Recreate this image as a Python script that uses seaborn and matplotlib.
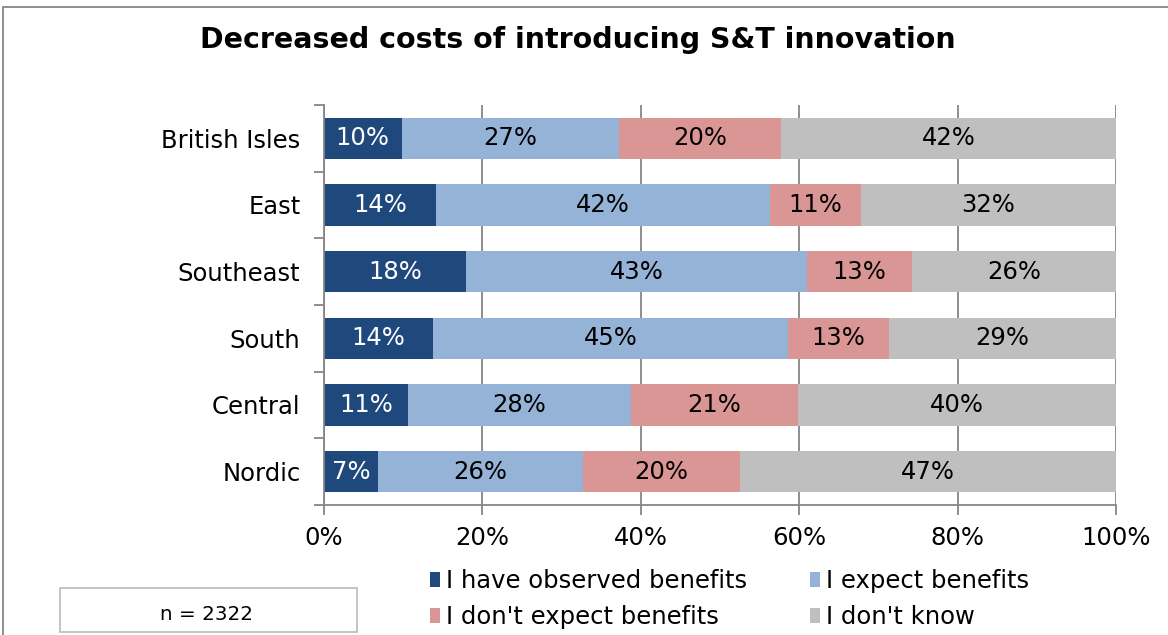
import matplotlib
matplotlib.use("Agg")
import matplotlib.pyplot as plt
import seaborn as sns
import pandas as pd
import numpy as np
from matplotlib.patches import Patch, Rectangle

regions = ["British Isles", "East", "Southeast", "South", "Central", "Nordic"]
observed = [9.8, 14.1, 17.9, 13.8, 10.6, 6.8]
expect = [27.4, 42.2, 43.1, 44.8, 28.2, 25.9]
dont_expect = [20.5, 11.5, 13.2, 12.7, 21.0, 19.8]
dont_know = [42.3, 32.2, 25.8, 28.7, 40.2, 47.5]
labels_observed = ["10%", "14%", "18%", "14%", "11%", "7%"]
labels_expect = ["27%", "42%", "43%", "45%", "28%", "26%"]
labels_dont_expect = ["20%", "11%", "13%", "13%", "21%", "20%"]
labels_dont_know = ["42%", "32%", "26%", "29%", "40%", "47%"]
series_names = ["I have observed benefits", "I expect benefits",
                "I don't expect benefits", "I don't know"]
colors = ["#1F497D", "#95B3D7", "#DA9694", "#BFBFBF"]
title = "Decreased costs of introducing S&T innovation"
n_text = "n = 2322"

sns.set_style("white")
plt.rcParams['font.family'] = ['DejaVu Sans']
plt.rcParams['text.color'] = 'black'
plt.rcParams['xtick.color'] = 'black'
plt.rcParams['ytick.color'] = 'black'
plt.rcParams['xtick.bottom'] = True
plt.rcParams['ytick.left'] = True

FS = 17.5

fig = plt.figure(figsize=(11.68, 6.35), dpi=100)
W, H = 1168, 635
ax = fig.add_axes([324 / W, 1 - 505 / H, (1116 - 324) / W, (505 - 105) / H])

series = [observed, expect, dont_expect, dont_know]
label_sets = [labels_observed, labels_expect, labels_dont_expect, labels_dont_know]
cum = np.cumsum(np.array(series), axis=0)

# draw cumulative layers from the longest to the shortest
for i in range(3, -1, -1):
    df = pd.DataFrame({"region": regions, "value": cum[i]})
    sns.barplot(data=df, x="value", y="region", orient="h", color=colors[i],
                width=0.62, ax=ax, saturation=1, linewidth=0, zorder=3)

for i in range(4):
    starts = cum[i] - np.array(series[i])
    for j, r in enumerate(regions):
        cx = starts[j] + series[i][j] / 2
        ax.text(cx, j, label_sets[i][j], ha="center", va="center",
                fontsize=FS, color="white" if i == 0 else "black", zorder=5)

ax.set_xlim(0, 100)
ax.set_ylim(5.5, -0.5)
ax.set_xticks([0, 20, 40, 60, 80, 100])
ax.set_xticklabels(["0%", "20%", "40%", "60%", "80%", "100%"], fontsize=FS)
ax.set_yticks(range(len(regions)))
ax.set_yticklabels(regions, fontsize=FS)
ax.set_xlabel("")
ax.set_ylabel("")
ax.xaxis.grid(True, color="#868686", linewidth=1.3, zorder=0)
ax.set_axisbelow(True)
for s in ["top", "right"]:
    ax.spines[s].set_visible(False)
for s in ["left", "bottom"]:
    ax.spines[s].set_color("#868686")
    ax.spines[s].set_linewidth(1.3)
    ax.spines[s].set_zorder(6)

# y ticks at category boundaries
ax.set_yticks(np.arange(-0.5, 6.0, 1.0), minor=True)
ax.tick_params(axis="y", which="major", length=0, pad=17)
ax.tick_params(axis="y", which="minor", length=7, width=1.3, color="#868686",
               direction="out", left=True)
ax.tick_params(axis="x", which="major", length=7, width=1.3, color="#868686",
               direction="out", pad=8, bottom=True, labelcolor="black")

fig.text(578 / W, 1 - 40 / H, title, ha="center", va="center",
         fontsize=20.5, fontweight="bold", color="black")

handles = [Patch(facecolor=colors[k], edgecolor="none") for k in [0, 2, 1, 3]]
hlabels = [series_names[k] for k in [0, 2, 1, 3]]
fig.legend(handles, hlabels, ncol=2, loc="center left",
           bbox_to_anchor=(418 / W, 1 - 599 / H), frameon=False, fontsize=FS,
           handlelength=0.42, handleheight=0.6, handletextpad=0.25,
           columnspacing=2.55, labelspacing=0.5, borderpad=0, labelcolor="black")

# n box
fig.patches.append(Rectangle((60 / W, 1 - 632 / H), 297 / W, 44 / H,
                             transform=fig.transFigure, facecolor="white",
                             edgecolor="#BFBFBF", linewidth=1.3))
fig.text(207 / W, 1 - 614 / H, n_text, ha="center", va="center", fontsize=14.3,
         color="black")

# figure border
fig.patches.append(Rectangle((3 / W, -0.05), 1.2, 1.05 - 7 / H,
                             transform=fig.transFigure, facecolor="none",
                             edgecolor="#868686", linewidth=1.3))

fig.savefig("out.png", dpi=100)
